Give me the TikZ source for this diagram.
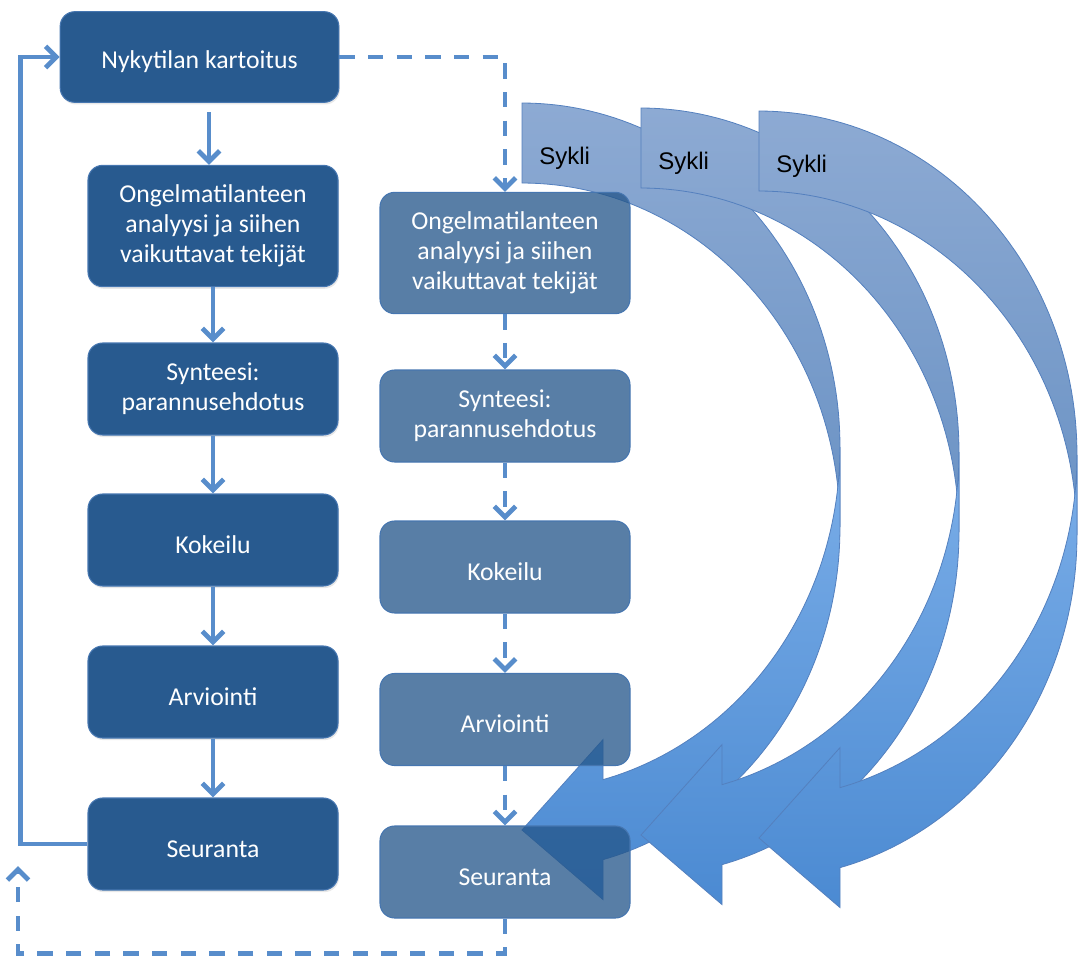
\documentclass[tikz,border=0pt]{standalone}
\usepackage{fontspec}
\setmainfont{Carlito}
\newfontfamily\syklifont{Liberation Sans}
\usetikzlibrary{arrows.meta,shadows}

\definecolor{boxblue}{RGB}{40,90,143}
\definecolor{boxbluelight}{RGB}{36,86,138}
\definecolor{boxrim}{RGB}{70,118,176}
\definecolor{linkblue}{RGB}{88,141,203}
\definecolor{backtop}{RGB}{141,170,211}
\definecolor{backbot}{RGB}{106,146,196}
\definecolor{fronttop}{RGB}{123,174,232}
\definecolor{frontbot}{RGB}{75,138,210}
\definecolor{arrowrim}{RGB}{84,128,190}

\tikzset{
  stage/.style={rectangle, rounded corners=11pt, draw=boxrim, line width=0.8pt,
    text=white, align=center, font=\fontsize{19.3}{22.5}\selectfont,
    minimum width=187.5pt, minimum height=69pt, inner sep=2pt,
    execute at begin node={\rule{0pt}{20pt}}},
  leftstage/.style={stage, fill=boxblue,
    drop shadow={opacity=0.18, shadow xshift=0.8pt, shadow yshift=-1.6pt}},
  rightstage/.style={stage, fill=boxbluelight, fill opacity=0.76, text opacity=1},
  link/.style={draw=linkblue, line width=3.6pt, -{Straight Barb[length=8pt,width=16pt]}},
  dlink/.style={link, dash pattern=on 11.5pt off 10pt},
  sykliback/.style={draw=arrowrim, line width=0.6pt, top color=backtop, bottom color=backbot},
  syklifront/.style={draw=arrowrim, line width=0.6pt, top color=fronttop, bottom color=frontbot},
  syklilabel/.style={font=\syklifont\fontsize{18}{20}\selectfont, text=black,
    anchor=west, inner sep=0pt},
}

% A curved cycle arrow: tail cut at (#1,#2), bending round to the right
% and coming back with its head pointing left; #3 names the label node.
\newcommand\sykliarrow[3]{%
  \begin{scope}[shift={(#1,#2)}]
    % upper (rear) half of the ribbon
    \path[sykliback] (0,0)
      -- plot[domain=-90:0, samples=60, variable=\a] ({318*cos(\a)},{344+344*sin(\a)})
      -- plot[domain=0:-90, samples=60, variable=\a] ({318*cos(\a)},{424+344*sin(\a)})
      -- cycle;
    % lower (front) half with the arrow head
    \path[syklifront] (0,727) -- (81,636.6)
      -- plot[domain=75.24:0, samples=60, variable=\a] ({318*cos(\a)},{344+344*sin(\a)})
      -- plot[domain=0:75.24, samples=60, variable=\a] ({318*cos(\a)},{424+344*sin(\a)})
      -- (81,796.6) -- cycle;
    \node[syklilabel] (#3) at (17,55) {Sykli};
  \end{scope}
}

\begin{document}
\begin{tikzpicture}[x=0.75pt, y=-0.75pt]
  \useasboundingbox (0,0) rectangle (1079,960);

  % first round of the process
  \node[leftstage, minimum width=209pt, minimum height=68pt] (nyk) at (199.5,57) {Nykytilan kartoitus};
  \node[leftstage, minimum height=91pt] (lo) at (213,226) {Ongelmatilanteen\\analyysi ja siihen\\vaikuttavat tekijät};
  \node[leftstage] (ls) at (213,389) {Synteesi:\\parannusehdotus};
  \node[leftstage] (lk) at (213,540) {Kokeilu};
  \node[leftstage] (la) at (213,692) {Arviointi};
  \node[leftstage] (lse) at (213,844) {Seuranta};

  \draw[link, shorten <=7pt] ([xshift=-3pt]lo.north |- nyk.south) -- ([xshift=-3pt]lo.north);
  \draw[link] (lo.south) -- (ls.north);
  \draw[link] (ls.south) -- (lk.north);
  \draw[link] (lk.south) -- (la.north);
  \draw[link] (la.south) -- (lse.north);
  \draw[link] (lse.west) -- ++(-67,0) |- (nyk.west);

  % the cycle arrows
  \sykliarrow{522}{103}{sykA}
  \sykliarrow{641}{108}{sykB}
  \sykliarrow{759}{111}{sykC}

  % repeated round
  \node[rightstage, minimum height=91pt] (ro) at (505,253) {Ongelmatilanteen\\analyysi ja siihen\\vaikuttavat tekijät};
  \node[rightstage] (rs) at (505,416) {Synteesi:\\parannusehdotus};
  \node[rightstage] (rk) at (505,567) {Kokeilu};
  \node[rightstage] (ra) at (505,719.5) {Arviointi};
  \node[rightstage] (rse) at (505,872) {Seuranta};

  \draw[dlink] (nyk.east) -| (ro.north);
  \draw[dlink] (ro.south) -- (rs.north);
  \draw[dlink] (rs.south) -- (rk.north);
  \draw[dlink] (rk.south) -- (ra.north);
  \draw[dlink] (ra.south) -- (rse.north);

  \coordinate (back) at (18,866);
  \draw[dlink] (rse.south) -- ++(0,35) -| (back);
\end{tikzpicture}
\end{document}
